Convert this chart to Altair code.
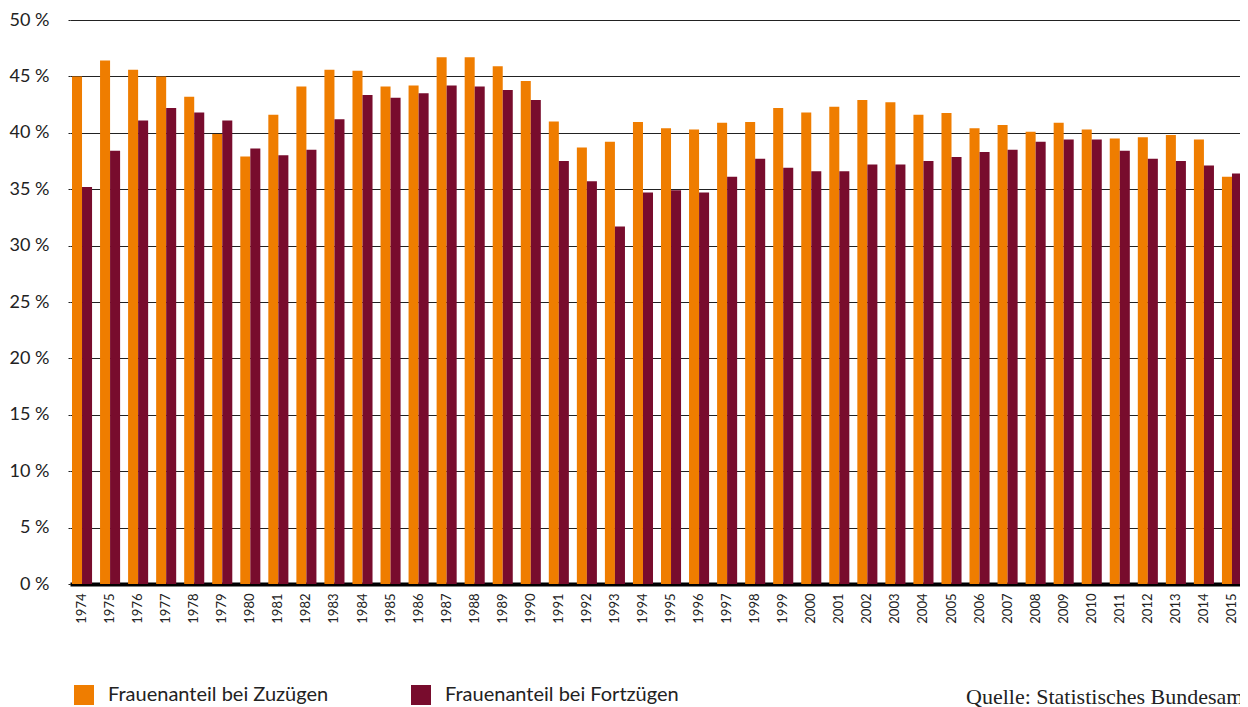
import altair as alt
import pandas as pd

years = list(range(1974, 2016))
zuzuege = [45.0, 46.4, 45.6, 45.0, 43.2, 39.9, 37.9, 41.6, 44.1, 45.6,
           45.5, 44.1, 44.2, 46.7, 46.7, 45.9, 44.6, 41.0, 38.7, 39.2,
           40.95, 40.4, 40.3, 40.9, 40.95, 42.2, 41.8, 42.3, 42.9, 42.7,
           41.6, 41.75, 40.4, 40.7, 40.1, 40.9, 40.3, 39.5, 39.6, 39.8,
           39.4, 36.1]
fortzuege = [35.2, 38.4, 41.1, 42.2, 41.8, 41.1, 38.6, 38.0, 38.5, 41.2,
             43.35, 43.1, 43.5, 44.2, 44.1, 43.8, 42.9, 37.5, 35.7, 31.7,
             34.7, 34.9, 34.7, 36.1, 37.7, 36.9, 36.6, 36.6, 37.2, 37.2,
             37.5, 37.85, 38.3, 38.5, 39.2, 39.4, 39.4, 38.4, 37.7, 37.5,
             37.1, 36.4]
series_names = ["Frauenanteil bei Zuzügen", "Frauenanteil bei Fortzügen"]
series_colors = ["#EF7D00", "#780C2D"]
y_ticks = [0, 5, 10, 15, 20, 25, 30, 35, 40, 45, 50]
source_text = "Quelle: Statistisches Bundesamt"

rows = []
for i, yr in enumerate(years):
    rows.append({"Jahr": str(yr), "Reihe": series_names[0], "Wert": zuzuege[i]})
    rows.append({"Jahr": str(yr), "Reihe": series_names[1], "Wert": fortzuege[i]})
df = pd.DataFrame(rows)

FONT = "Lato"

bars = alt.Chart(df).mark_bar().encode(
    x=alt.X("Jahr:N", sort=[str(y) for y in years],
            scale=alt.Scale(paddingInner=0.285, paddingOuter=0.1425, align=0.25,
                            range=[0, 1178]),
            axis=alt.Axis(title=None, labelAngle=270, ticks=False, labelPadding=9,
                          labelFontSize=13, labelFont=FONT, labelColor="#222",
                          domainColor="#000", domainWidth=4, grid=False)),
    xOffset=alt.XOffset("Reihe:N", scale=alt.Scale(domain=series_names)),
    y=alt.Y("Wert:Q", scale=alt.Scale(domain=[0, 50], nice=False),
            axis=alt.Axis(title=None, values=y_ticks, domain=False,
                          labelExpr="datum.value + ' %'",
                          labelFontSize=18, labelFont=FONT, labelColor="#222",
                          labelPadding=19, tickSize=2, tickColor="#222",
                          grid=True, gridColor="#222", gridWidth=1)),
    color=alt.Color("Reihe:N", scale=alt.Scale(domain=series_names, range=series_colors),
                    legend=alt.Legend(title=None, orient="none", legendX=4, legendY=665,
                                      direction="horizontal", symbolType="square",
                                      symbolSize=400, symbolStrokeWidth=0,
                                      labelFontSize=20, labelFont=FONT, labelColor="#222",
                                      labelLimit=600, labelOffset=14, columnPadding=82)),
)

src = alt.Chart(pd.DataFrame({"t": [source_text]})).mark_text(
    align="left", baseline="alphabetic", font="Liberation Serif", fontSize=22, color="#222"
).encode(text="t:N", x=alt.value(896), y=alt.value(684))

chart = alt.layer(bars, src).properties(
    width=1170, height=564,
    autosize=alt.AutoSizeParams(type="none"),
    padding={"left": 62, "top": 12, "right": 0, "bottom": 123},
).configure_view(stroke=None)

chart.save("out.html", embed_options={"renderer": "svg", "actions": False})
